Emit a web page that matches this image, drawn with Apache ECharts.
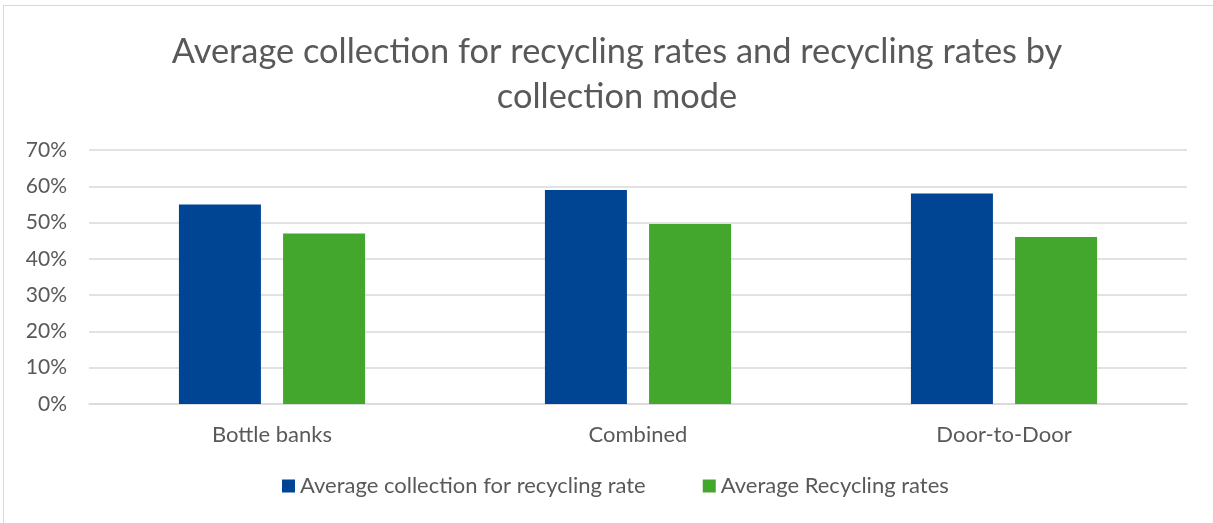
<!DOCTYPE html>
<html>
<head>
<meta charset="utf-8">
<script src="https://cdn.jsdelivr.net/npm/echarts@6/dist/echarts.min.js"></script>
<style>
    html, body { margin: 0; padding: 0; background: #fff; }
    #frame { position: absolute; left: 3px; top: 5px; width: 1215px; height: 525px; border: 1px solid #d9d9d9; box-sizing: border-box; }
    #chart { position: absolute; left: 0; top: 0; width: 1213px; height: 523px; }
</style>
</head>
<body>
<div id="frame"></div>
<div id="chart"></div>
<script>
var categories = ["Bottle banks", "Combined", "Door-to-Door"];
var collectionRate = [55, 59, 58];
var recyclingRate = [47, 49.6, 46];
var seriesNames = ["Average collection for recycling rate", "Average Recycling rates"];

var fontColor = "#595959";
var lineColor = "#d9d9d9";
var colors = ["#004494", "#43a72d"];
var font = "Lato, 'Open Sans', sans-serif";

var chart = echarts.init(document.getElementById("chart"));
var option = {
    backgroundColor: "transparent",
    color: colors,
    title: {
        text: "Average collection for recycling rates and recycling rates by\ncollection mode",
        left: 612,
        textAlign: "center",
        top: 24,
        textStyle: { color: fontColor, fontSize: 34.4, fontWeight: "normal", fontFamily: font, lineHeight: 45 }
    },
    legend: {
        bottom: 21,
        left: 277,
        itemWidth: 13,
        itemHeight: 13,
        itemGap: 57,
        icon: "rect",
        textStyle: { color: fontColor, fontSize: 22, fontFamily: font },
        data: seriesNames
    },
    grid: { left: 89, right: 26, top: 150, bottom: 119, containLabel: false },
    xAxis: {
        type: "category",
        data: categories,
        axisTick: { show: false },
        axisLine: { lineStyle: { color: lineColor, width: 1.5 } },
        axisLabel: { color: fontColor, fontSize: 22, fontFamily: font, margin: 20 }
    },
    yAxis: {
        type: "value",
        min: 0,
        max: 70,
        interval: 10,
        axisLine: { show: false },
        axisTick: { show: false },
        splitLine: { lineStyle: { color: lineColor, width: 1.5 } },
        axisLabel: { color: fontColor, fontSize: 21, fontFamily: font, margin: 22, formatter: "{value}%" }
    },
    series: [
        { name: seriesNames[0], type: "bar", data: collectionRate, barWidth: 82, barGap: "27%" },
        { name: seriesNames[1], type: "bar", data: recyclingRate, barWidth: 82, barGap: "27%" }
    ]
};
chart.setOption(option);
</script>
</body>
</html>
